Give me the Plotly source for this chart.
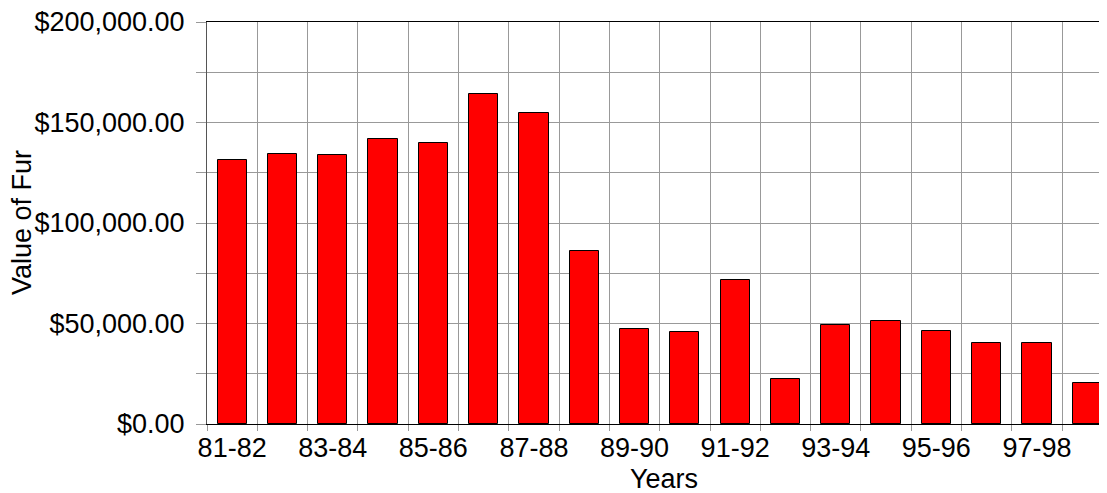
import plotly.graph_objects as go

years = ["81-82", "82-83", "83-84", "84-85", "85-86", "86-87", "87-88", "88-89", "89-90",
         "90-91", "91-92", "92-93", "93-94", "94-95", "95-96", "96-97", "97-98", "98-99"]
fur_value = [131300, 134200, 134000, 141900, 140000, 164200, 154600, 85900, 47100,
             45600, 71800, 22200, 49100, 51100, 46100, 40300, 40100, 20200]

x_ticktext = [y if i % 2 == 0 else "" for i, y in enumerate(years)]
y_tickvals = [0, 25000, 50000, 75000, 100000, 125000, 150000, 175000, 200000]
y_ticktext = ["$0.00", "", "$50,000.00", "", "$100,000.00", "", "$150,000.00", "", "$200,000.00"]

FONT = "Liberation Sans, Arial, sans-serif"
FS = 27

fig = go.Figure()
fig.add_trace(go.Bar(
    x=years, y=fur_value, width=0.58,
    marker=dict(color="#FF0000", line=dict(color="#000000", width=1)),
))

# page body has an 8px margin; figure sized so that it fits the 1107x493 window
fig.update_layout(
    width=1099, height=485,
    margin=dict(l=199, r=0, t=14, b=69),
    paper_bgcolor="white", plot_bgcolor="white",
    showlegend=False,
    font=dict(family=FONT, size=FS, color="#000000"),
    bargap=0,
)
fig.update_xaxes(
    type="category",
    tickmode="array", tickvals=years, ticktext=x_ticktext,
    tickson="boundaries", tickangle=0, automargin=False,
    range=[-0.5, -0.5 + 900 / 50.3],
    showgrid=True, gridcolor="#999999", gridwidth=1,
    ticks="outside", ticklen=6, tickcolor="#999999",
    showline=True, linecolor="#000000", linewidth=1, mirror=True,
    tickfont=dict(family=FONT, size=FS),
    ticklabeloverflow="allow",
)
fig.update_yaxes(
    range=[0, 200000], automargin=False,
    tickmode="array", tickvals=y_tickvals, ticktext=y_ticktext,
    showgrid=True, gridcolor="#999999", gridwidth=1,
    ticks="outside", ticklen=10, tickcolor="#999999",
    ticklabelstandoff=6, ticklabeloverflow="allow",
    showline=True, linecolor="#555555", linewidth=1,
    tickfont=dict(family=FONT, size=FS),
    zeroline=False,
)
fig.add_annotation(
    text="Value of Fur", textangle=-90, showarrow=False,
    xref="paper", yref="paper", x=(22 - 207) / 900, y=0.5,
    xanchor="center", yanchor="middle",
    font=dict(family=FONT, size=FS),
)
fig.add_annotation(
    text="Years", showarrow=False,
    xref="paper", yref="paper", x=(664 - 207) / 900, y=(424 - 479) / 402,
    xanchor="center", yanchor="middle",
    font=dict(family=FONT, size=FS),
)

fig.write_html("out.html")
